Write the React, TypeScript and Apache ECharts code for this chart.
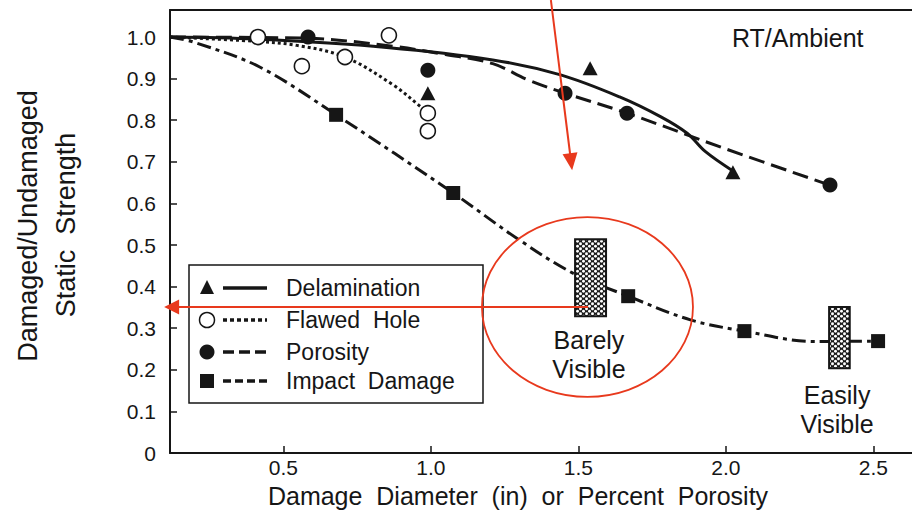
import React, { useEffect, useRef } from "react";
import * as echarts from "echarts";

// ---- axis ticks ----
const xTickValues = [0.5, 1.0, 1.5, 2.0, 2.5];
const yTickValues = [0, 0.1, 0.2, 0.3, 0.4, 0.5, 0.6, 0.7, 0.8, 0.9, 1.0];

// ---- series names ----
const seriesNames = ["Delamination", "Flawed  Hole", "Porosity", "Impact  Damage"];

// ---- curves (x, ratio) ----
const delamCurve = [[0.116, 1.0], [0.41, 0.995], [0.85, 0.975], [1.21, 0.945], [1.44, 0.909], [1.64, 0.856], [1.78, 0.808], [1.87, 0.768], [1.93, 0.725], [2.024, 0.678]];
const flawedCurve = [[0.116, 1.0], [0.4, 0.99], [0.546, 0.98], [0.709, 0.952], [0.872, 0.885], [0.963, 0.834], [0.99, 0.817]];
const porosityCurve = [[0.116, 1.0], [0.584, 0.997], [0.87, 0.978], [1.05, 0.958], [1.21, 0.936], [1.33, 0.897], [1.455, 0.865], [1.665, 0.817], [2.0, 0.731], [2.353, 0.644]];
const impactCurve = [[0.116, 1.0], [0.195, 0.988], [0.42, 0.928], [0.679, 0.813], [1.076, 0.625], [1.29, 0.517], [1.48, 0.433], [1.669, 0.377], [1.88, 0.32], [2.063, 0.293], [2.3, 0.268], [2.516, 0.269]];

// ---- measured points ----
const delamPoints = [[0.99, 0.865], [1.54, 0.925], [2.024, 0.675]];
const flawedPoints = [[0.414, 1.0], [0.563, 0.93], [0.709, 0.952], [0.858, 1.004], [0.99, 0.817], [0.99, 0.774]];
const porosityPoints = [[0.584, 1.0], [0.99, 0.92], [1.455, 0.865], [1.665, 0.817], [2.353, 0.644]];
const impactPoints = [[0.679, 0.813], [1.076, 0.625], [1.669, 0.377], [2.063, 0.293], [2.516, 0.269]];

// ---- visibility bands: [x0, x1, y0, y1] ----
const visibilityBands = [[1.489, 1.594, 0.329, 0.514], [2.35, 2.42, 0.204, 0.351]];

// ---- annotation anchors (data coords, first text line) ----
const bandLabels = [
  { lines: ["Barely", "Visible"], x: 1.536, y: 0.271 },
  { lines: ["Easily", "Visible"], x: 2.377, y: 0.139 },
];
const conditionLabel = "RT/Ambient";
const xTitle = "Damage  Diameter  (in)  or  Percent  Porosity";
const yTitleLines = ["Damaged/Undamaged", "Static  Strength"];
const arrowDown = { from: [1.407, 1.089], to: [1.479, 0.68] };
const arrowLeft = { from: [1.533, 0.351], to: [0.096, 0.351] };
const circleMark = { cx: 1.531, cy: 0.351, rx: 0.3576, ry: 0.216 };

const FONT = "'Liberation Sans', Arial, Helvetica, sans-serif";
const INK = "#161616";
const RED = "#e8391d";

const X_MIN = 0.116;
const X_MAX = 2.631;
const Y_MAX = 1.065;

function makePattern(): any {
  const w = 6, h = 5;
  const c = document.createElement("canvas");
  c.width = w;
  c.height = h;
  const ctx = c.getContext("2d")!;
  ctx.fillStyle = "#1a1a1a";
  ctx.fillRect(0, 0, w, h);
  ctx.fillStyle = "#ffffff";
  const dots = [[1.5, 1.25], [4.5, 3.75], [4.5 - 6, 3.75], [1.5 + 6, 1.25], [1.5, 1.25 + 5], [4.5, 3.75 - 5]];
  dots.forEach(([x, y]) => {
    ctx.beginPath();
    ctx.arc(x, y, 1.45, 0, Math.PI * 2);
    ctx.fill();
  });
  return { image: c, repeat: "repeat", imageWidth: w, imageHeight: h };
}

function arrowHead(tip: number[], from: number[], len: number, half: number) {
  const dx = tip[0] - from[0];
  const dy = tip[1] - from[1];
  const d = Math.hypot(dx, dy) || 1;
  const ux = dx / d;
  const uy = dy / d;
  const bx = tip[0] - ux * len;
  const by = tip[1] - uy * len;
  return [
    [tip[0], tip[1]],
    [bx - uy * half, by + ux * half],
    [bx + uy * half, by - ux * half],
  ];
}

export default function App() {
  const ref = useRef<HTMLDivElement>(null);

  useEffect(() => {
    const chart = echarts.init(ref.current!, null, { renderer: "svg" });
    const pattern = makePattern();

    const lineBase = { type: "line", smooth: 0.35, showSymbol: false, symbol: "none", silent: true, z: 3 };
    const scatterBase = { type: "scatter", z: 6, silent: true };

    const option: any = {
      animation: false,
      backgroundColor: "#ffffff",
      textStyle: { fontFamily: FONT },
      grid: { left: 170, right: 0, top: 10, bottom: 62 },
      xAxis: [
        {
          type: "value",
          min: X_MIN,
          max: X_MAX,
          splitLine: { show: false },
          axisLine: { show: true, onZero: false, lineStyle: { color: INK, width: 2 } },
          axisTick: { show: true, inside: true, length: 7, lineStyle: { color: INK, width: 1.5 }, customValues: xTickValues },
          axisLabel: {
            show: true,
            customValues: xTickValues,
            margin: 4,
            color: INK,
            fontSize: 21,
            fontFamily: FONT,
            formatter: (v: number) => v.toFixed(1),
          },
        },
        {
          type: "value",
          position: "top",
          min: X_MIN,
          max: X_MAX,
          splitLine: { show: false },
          axisLine: { show: true, onZero: false, lineStyle: { color: INK, width: 2 } },
          axisTick: { show: false },
          axisLabel: { show: false },
        },
      ],
      yAxis: {
        type: "value",
        min: 0,
        max: Y_MAX,
        splitLine: { show: false },
        axisLine: { show: true, onZero: false, lineStyle: { color: INK, width: 2 } },
        axisTick: { show: true, inside: true, length: 7, lineStyle: { color: INK, width: 1.5 }, customValues: yTickValues },
        axisLabel: {
          show: true,
          customValues: yTickValues,
          margin: 14,
          color: INK,
          fontSize: 21,
          fontFamily: FONT,
          formatter: (v: number) => (v === 0 ? "0" : v.toFixed(1)),
        },
      },
      series: [
        { ...lineBase, name: seriesNames[0], data: delamCurve, lineStyle: { color: INK, width: 3 } },
        { ...lineBase, name: seriesNames[1], data: flawedCurve, lineStyle: { color: INK, width: 3, type: [3, 3] } },
        { ...lineBase, name: seriesNames[2], data: porosityCurve, lineStyle: { color: INK, width: 3, type: [16, 7] } },
        { ...lineBase, name: seriesNames[3], data: impactCurve, lineStyle: { color: INK, width: 3, type: [14, 5, 4, 5] } },
        {
          type: "custom",
          name: "Visibility",
          z: 5,
          silent: true,
          data: visibilityBands,
          encode: { x: [0, 1], y: [2, 3] },
          renderItem: (params: any, api: any) => {
            const p0 = api.coord([api.value(0), api.value(3)]);
            const p1 = api.coord([api.value(1), api.value(2)]);
            return {
              type: "rect",
              shape: { x: p0[0], y: p0[1], width: p1[0] - p0[0], height: p1[1] - p0[1] },
              style: { fill: pattern, stroke: INK, lineWidth: 2 },
            };
          },
        },
        { ...scatterBase, name: seriesNames[0] + " pts", data: delamPoints, symbol: "triangle", symbolSize: [15, 14], itemStyle: { color: INK, opacity: 1 } },
        { ...scatterBase, name: seriesNames[1] + " pts", data: flawedPoints, symbol: "circle", symbolSize: 15, itemStyle: { color: "#ffffff", borderColor: INK, borderWidth: 1.6, opacity: 1 } },
        { ...scatterBase, name: seriesNames[2] + " pts", data: porosityPoints, symbol: "circle", symbolSize: 15, itemStyle: { color: INK, opacity: 1 } },
        { ...scatterBase, name: seriesNames[3] + " pts", data: impactPoints, symbol: "rect", symbolSize: 14, itemStyle: { color: INK, opacity: 1 } },
      ],
    };
    chart.setOption(option);

    const px = (p: number[]) => chart.convertToPixel({ xAxisIndex: 0, yAxisIndex: 0 }, p) as number[];

    // legend (drawn to match the original layout)
    const lx = 189, ly = 265, lw = 294, lh = 138;
    const rows = [288, 320, 352, 381];
    const symX = 207;
    const legend: any[] = [
      { type: "rect", shape: { x: lx, y: ly, width: lw, height: lh }, style: { fill: "#ffffff", stroke: INK, lineWidth: 1.5 }, z: 20 },
      { type: "polygon", shape: { points: [[symX, rows[0] - 8], [symX - 7, rows[0] + 6], [symX + 7, rows[0] + 6]] }, style: { fill: INK }, z: 21 },
      { type: "circle", shape: { cx: symX, cy: rows[1], r: 7.5 }, style: { fill: "#ffffff", stroke: INK, lineWidth: 1.5 }, z: 21 },
      { type: "circle", shape: { cx: symX, cy: rows[2], r: 7.5 }, style: { fill: INK }, z: 21 },
      { type: "rect", shape: { x: symX - 7, y: rows[3] - 7, width: 14, height: 14 }, style: { fill: INK }, z: 21 },
      { type: "line", shape: { x1: 223, y1: rows[0], x2: 267, y2: rows[0] }, style: { stroke: INK, lineWidth: 3.5 }, z: 21 },
      { type: "line", shape: { x1: 223, y1: rows[1], x2: 267, y2: rows[1] }, style: { stroke: INK, lineWidth: 3.5, lineDash: [4, 3] }, z: 21 },
      { type: "line", shape: { x1: 223, y1: rows[2], x2: 267, y2: rows[2] }, style: { stroke: INK, lineWidth: 3.5, lineDash: [11, 5] }, z: 21 },
      { type: "line", shape: { x1: 223, y1: rows[3], x2: 267, y2: rows[3] }, style: { stroke: INK, lineWidth: 3.5, lineDash: [8, 4] }, z: 21 },
    ];
    seriesNames.forEach((n, i) => {
      legend.push({
        type: "text",
        x: 286,
        y: rows[i],
        z: 21,
        style: { text: n, fill: INK, font: `23px ${FONT}`, align: "left", verticalAlign: "middle" },
      });
    });

    // titles and annotations
    const texts: any[] = [
      { type: "text", x: 518, y: 496, z: 21, style: { text: xTitle, fill: INK, font: `25px ${FONT}`, align: "center", verticalAlign: "middle" } },
      { type: "text", x: 28, y: 226, rotation: Math.PI / 2, z: 21, style: { text: yTitleLines[0], fill: INK, font: `27px ${FONT}`, align: "center", verticalAlign: "middle" } },
      { type: "text", x: 66, y: 225, rotation: Math.PI / 2, z: 21, style: { text: yTitleLines[1], fill: INK, font: `27px ${FONT}`, align: "center", verticalAlign: "middle" } },
      { type: "text", x: 732, y: 38, z: 21, style: { text: conditionLabel, fill: INK, font: `25px ${FONT}`, align: "left", verticalAlign: "middle" } },
    ];
    bandLabels.forEach((b) => {
      const p = px([b.x, b.y]);
      b.lines.forEach((t, i) => {
        texts.push({ type: "text", x: p[0], y: p[1] + i * 29, z: 21, style: { text: t, fill: INK, font: `25px ${FONT}`, align: "center", verticalAlign: "middle" } });
      });
    });

    const c = px([circleMark.cx, circleMark.cy]);
    const e = px([circleMark.cx + circleMark.rx, circleMark.cy + circleMark.ry]);
    const a1 = px(arrowDown.from), a2 = px(arrowDown.to);
    const b1 = px(arrowLeft.from), b2 = px(arrowLeft.to);
    const reds: any[] = [
      { type: "ellipse", shape: { cx: c[0], cy: c[1], rx: e[0] - c[0], ry: c[1] - e[1] }, style: { fill: "none", stroke: RED, lineWidth: 1.8 }, z: 30 },
      { type: "line", shape: { x1: a1[0], y1: a1[1], x2: a2[0] - (a2[0] - a1[0]) * 0.08, y2: a2[1] - (a2[1] - a1[1]) * 0.08 }, style: { stroke: RED, lineWidth: 2 }, z: 30 },
      { type: "polygon", shape: { points: arrowHead(a2, a1, 17, 7.5) }, style: { fill: RED }, z: 30 },
      { type: "line", shape: { x1: b1[0], y1: b1[1], x2: b2[0] + 12, y2: b2[1] }, style: { stroke: RED, lineWidth: 2 }, z: 30 },
      { type: "polygon", shape: { points: arrowHead(b2, b1, 15, 7.5) }, style: { fill: RED }, z: 30 },
    ];

    chart.setOption({ graphic: [...legend, ...texts, ...reds] });

    return () => chart.dispose();
  }, []);

  return <div ref={ref} style={{ position: "fixed", left: 0, top: 0, width: 912, height: 515, background: "#fff" }} />;
}
